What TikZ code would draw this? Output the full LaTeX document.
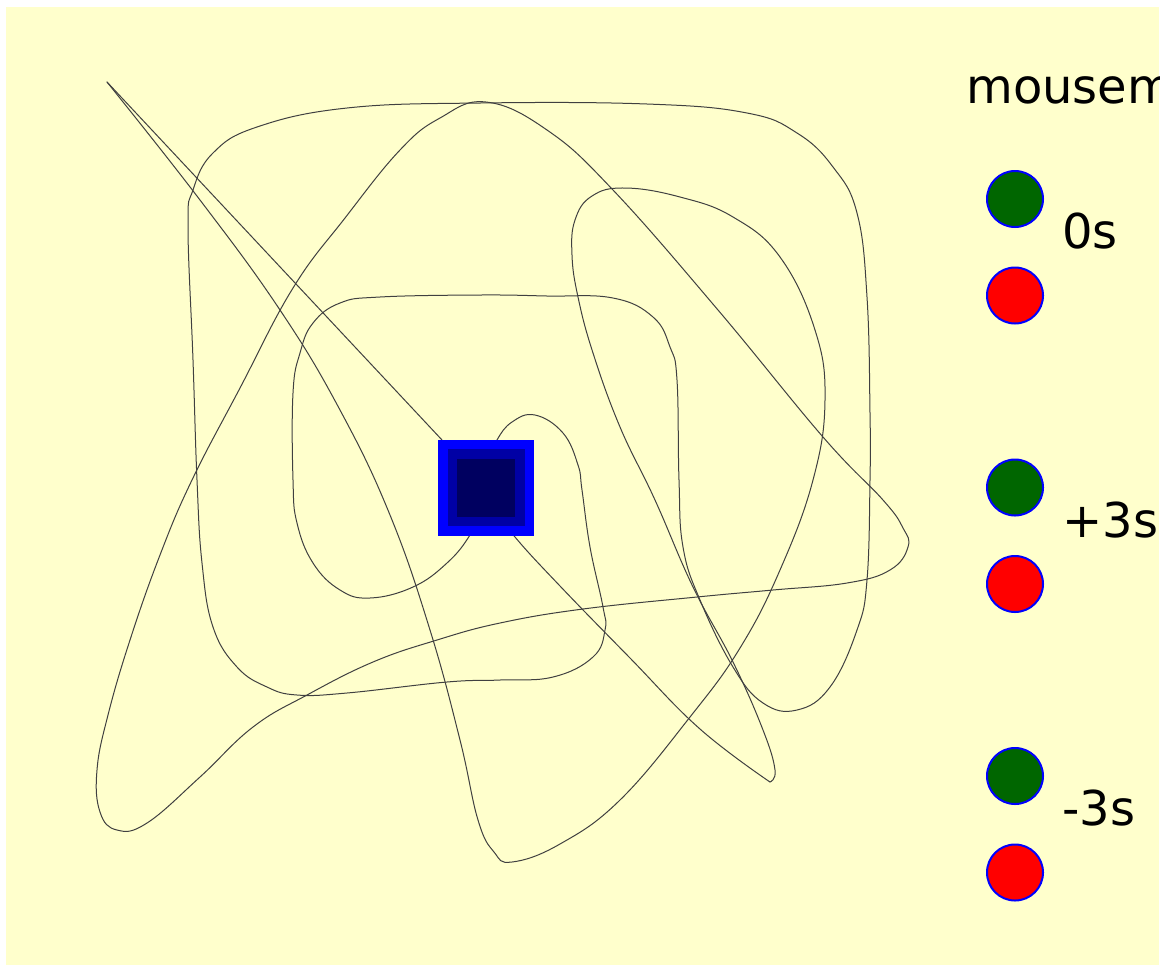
\documentclass[tikz,border=0pt]{standalone}
\usepackage{fontspec}
\setmainfont{DejaVu Sans}
\begin{document}
\begin{tikzpicture}[x=0.5pt,y=-0.5pt,
  curve/.style={draw=black!75, line width=0.5pt, line join=round, line cap=round},
  dot/.style={circle, draw=blue, line width=1pt, minimum size=28pt, inner sep=0pt},
  greendot/.style={dot, fill=green!40!black},
  reddot/.style={dot, fill=red},
  lbl/.style={font=\fontsize{24}{28}\selectfont, anchor=base west, inner sep=0pt, text=black},
  sq/.style={rectangle, inner sep=0pt, draw=none}]
\useasboundingbox (0,0) rectangle (1167,965);
\fill[white] (0,0) rectangle (1167,965);
\fill[fill={rgb,255:red,255;green,255;blue,204}] (6,7) rectangle (1159,965);

% segment A: straight line from the square to the upper-left tip
\draw[curve] (486,487) -- (107,82);
% segment B: tip to tip
\draw[curve] plot[smooth, tension=0.7] coordinates {
  (107,82) (200,200) (280,310) (340,410) (390,515) (430,630) (460,740)
  (478,820) (494,852) (512,862) (560,844) (620,800) (690,717) (740,648)
  (780,570) (813,480) (825,400) (815,330) (780,257) (733,217) (680,197)
  (625,188) (592,196) (575,220) (572,255) (578,297) (593,353) (620,427)
  (655,500) (693,587) (733,662) (763,730) (775,770) (770,782)};
% segment C: lower-right tip back into the square
\draw[curve] plot[smooth, tension=0.7] coordinates {
  (770,782) (700,729) (630,658) (560,586) (515,537) (492,505)};
% segment D: spiral from the square
\draw[curve] plot[smooth, tension=0.7] coordinates {
  (490,460) (497,440) (512,422) (535,415) (563,433) (578,465) (582,490)
  (590,547) (603,607) (605,630) (593,657) (553,677) (500,680) (447,682)
  (347,693) (297,695) (267,687) (237,667) (213,627) (202,563) (197,480)
  (193,360) (188,227) (193,190) (213,153) (257,127) (347,108) (480,103)
  (647,104) (747,113) (797,133) (833,167) (857,213) (867,297) (870,413)
  (870,480) (867,580) (857,630) (830,687) (797,710) (763,703) (733,667)
  (700,600) (683,547) (679,480) (677,380) (670,347) (653,317) (613,298)
  (547,296) (480,295) (380,297) (340,303) (313,323) (300,353) (293,393)
  (293,480) (297,523) (313,563) (340,590) (370,598) (413,587) (447,563)
  (470,535) (484,505)};
% segment E: closed loop
\draw[curve] plot[smooth cycle, tension=0.7] coordinates {
  (486,102) (547,130) (613,190) (718,310) (823,437) (883,500) (903,528)
  (908,547) (890,570) (847,583) (773,590) (697,597) (583,609) (500,623)
  (437,640) (373,662) (307,695) (253,727) (200,777) (147,823) (117,830)
  (100,812) (97,770) (108,715) (130,640) (160,555) (192,480) (240,388)
  (293,288) (345,218) (400,150) (440,118)};

% the square
\node[sq, fill=blue, minimum size=48pt] (outer) at (486,487.5) {};
\node[sq, fill={rgb,255:red,0;green,0;blue,165}, minimum size=38.5pt] (middle) at (486,487.5) {};
\node[sq, fill={rgb,255:red,0;green,0;blue,96}, minimum size=29pt] (inner) at (486,487.5) {};

% legend
\begin{scope}
\clip (6,7) rectangle (1159,965);
\node[lbl] (title) at (966,103) {mousem};
\end{scope}
\node[greendot] (g1) at (1015,199) {};
\node[reddot] (r1) at (1015,295.5) {};
\node[lbl] (t1) at (1062,248) {0s};
\node[greendot] (g2) at (1015,487.5) {};
\node[reddot] (r2) at (1015,584) {};
\node[lbl] (t2) at (1062,537) {+3s};
\node[greendot] (g3) at (1015,776) {};
\node[reddot] (r3) at (1015,872.5) {};
\node[lbl] (t3) at (1062,825) {-3s};
\end{tikzpicture}
\end{document}
